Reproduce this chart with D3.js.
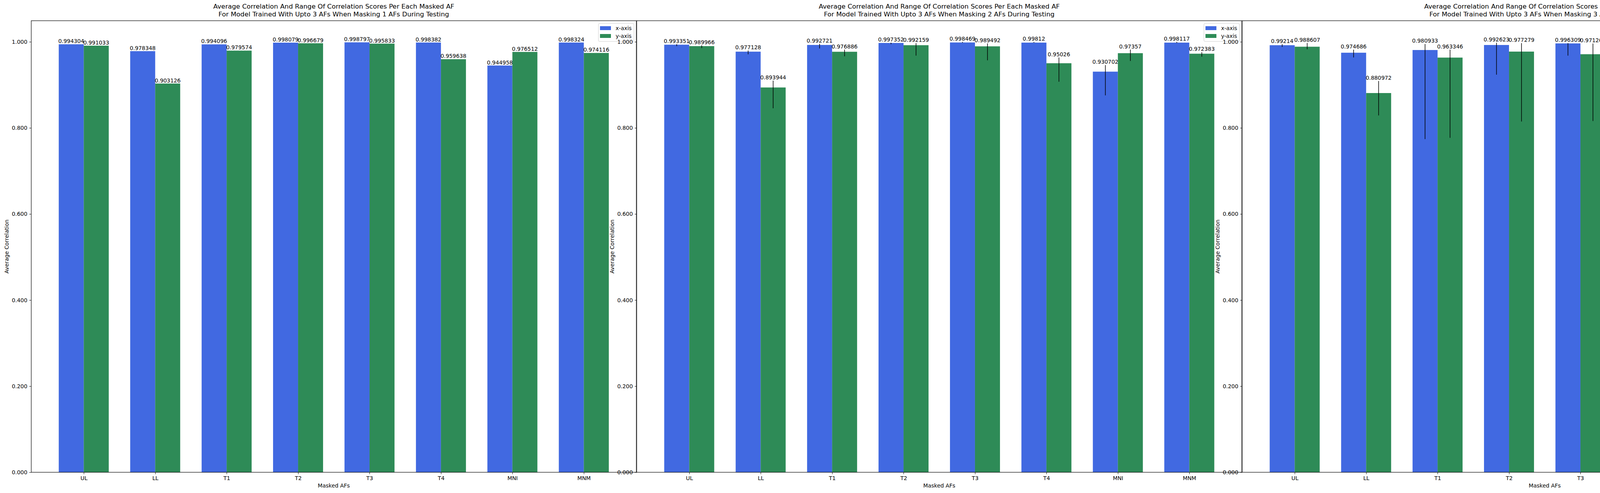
<!DOCTYPE html>
<html><head><meta charset="utf-8">
<script src="https://cdn.jsdelivr.net/npm/d3@7"></script>
<style>body{margin:0;background:#fff}text{font-family:"DejaVu Sans",sans-serif}</style>
</head><body><svg id="c" width="4738" height="1261"></svg>
<script>
const categories=["UL","LL","T1","T2","T3","T4","MNI","MNM"];
const titles=["Average Correlation And Range Of Correlation Scores Per Each Masked AF|For Model Trained With Upto 3 AFs When Masking 1 AFs During Testing",
"Average Correlation And Range Of Correlation Scores Per Each Masked AF|For Model Trained With Upto 3 AFs When Masking 2 AFs During Testing",
"Average Correlation And Range Of Correlation Scores Per Each Masked AF|For Model Trained With Upto 3 AFs When Masking 3 AFs During Testing"];
const xVals=[["0.994304","0.978348","0.994096","0.998079","0.998797","0.998382","0.944958","0.998324"],
["0.993351","0.977128","0.992721","0.997352","0.998469","0.99812","0.930702","0.998117"],
["0.99214","0.974686","0.980933","0.992623","0.996309","0.997501","0.912491","0.9978"]];
const yVals=[["0.991033","0.903126","0.979574","0.996679","0.995833","0.959638","0.976512","0.974116"],
["0.989966","0.893944","0.976886","0.992159","0.989492","0.95026","0.97357","0.972383"],
["0.988607","0.880972","0.963346","0.977279","0.971201","0.922004","0.968871","0.969479"]];
// ranges [min,max]; null = no error bar
const xRange=[null,
[[0.990,0.9946],[0.971,0.980],[0.9846,0.9955],[0.9946,0.998],[0.998,1.0],[0.998,1.0],[0.8756,0.946],[0.9973,1.0]],
[[0.9882,0.9946],[0.9637,0.9818],[0.774,0.995],[0.9237,0.998],[0.968,0.997],[0.9946,1.0],[0.793,0.943],[0.9966,1.0]]];
const yRange=[null,
[[0.9855,0.992],[0.8456,0.910],[0.9664,0.982],[0.968,0.997],[0.957,0.9964],[0.9074,0.9637],[0.9555,0.982],[0.9655,0.976]],
[[0.9827,0.9973],[0.829,0.909],[0.777,0.982],[0.815,0.997],[0.816,0.996],[0.5967,0.965],[0.945,0.982],[0.957,0.977]]];
const yTicks=[0,0.2,0.4,0.6,0.8,1.0];
const colors=["#4169e1","#2e8b57"];
const series=["x-axis","y-axis"];

const svg=d3.select("#c");
const pTop=53,pBottom=1208,W=1549;
const y=d3.scaleLinear().domain([0,1.049]).range([pBottom,pTop]);
for(let p=0;p<3;p++){
  const L=80+1550*p;
  const g=svg.append("g");
  const x=d3.scaleLinear().domain([-0.35-0.05*7.7,7.35+0.05*7.7]).range([L,L+W]);
  const bw=x(0.35)-x(0);
  [xVals[p],yVals[p]].forEach((vals,s)=>{
    const rng=[xRange,yRange][s][p];
    vals.forEach((v,i)=>{
      const val=+v, x0=x(i)+(s===0?-bw:0);
      g.append("rect").attr("x",x0).attr("y",y(val)).attr("width",bw).attr("height",y(0)-y(val)).attr("fill",colors[s]);
      let ty=y(val);
      if(rng){const r=rng[i];
        g.append("line").attr("x1",x0+bw/2).attr("x2",x0+bw/2).attr("y1",y(r[0])).attr("y2",y(r[1])).attr("stroke","#000").attr("stroke-width",1.5);
        ty=Math.min(ty,y(r[1]));}
      g.append("text").attr("x",x0+bw/2).attr("y",ty-3).attr("text-anchor","middle").attr("font-size",13.9).text(v);
    });
  });
  g.append("g").attr("transform",`translate(0,${pBottom})`).call(d3.axisBottom(x).tickValues(d3.range(8)).tickFormat(i=>categories[i]).tickSize(5).tickPadding(5)).call(a=>{a.select(".domain").remove();a.selectAll("text").attr("font-size",13.9).attr("font-family","DejaVu Sans");});
  g.append("g").attr("transform",`translate(${L},0)`).call(d3.axisLeft(y).tickValues(yTicks).tickFormat(d3.format(".3f")).tickSize(5).tickPadding(5)).call(a=>{a.select(".domain").remove();a.selectAll("text").attr("font-size",13.9).attr("font-family","DejaVu Sans");});
  g.append("rect").attr("x",L).attr("y",pTop).attr("width",W).attr("height",pBottom-pTop).attr("fill","none").attr("stroke","#000").attr("stroke-width",1.2);
  g.append("text").attr("x",L+W/2).attr("y",1247).attr("text-anchor","middle").attr("font-size",13.9).text("Masked AFs");
  g.append("text").attr("transform",`translate(${L-58},${(pTop+pBottom)/2}) rotate(-90)`).attr("text-anchor","middle").attr("font-size",13.9).text("Average Correlation");
  titles[p].split("|").forEach((t,k)=>g.append("text").attr("x",L+W/2).attr("y",22+k*20).attr("text-anchor","middle").attr("font-size",16.7).text(t));
  const lx=L+W-97,ly=60;
  g.append("rect").attr("x",lx).attr("y",ly).attr("width",91).attr("height",46).attr("rx",3).attr("fill","#fff").attr("fill-opacity",0.8).attr("stroke","#ccc");
  series.forEach((s,k)=>{
    g.append("rect").attr("x",lx+4).attr("y",ly+7+k*20).attr("width",28).attr("height",10).attr("fill",colors[k]);
    g.append("text").attr("x",lx+44).attr("y",ly+17+k*20).attr("font-size",13.9).text(s);
  });
}
</script></body></html>
